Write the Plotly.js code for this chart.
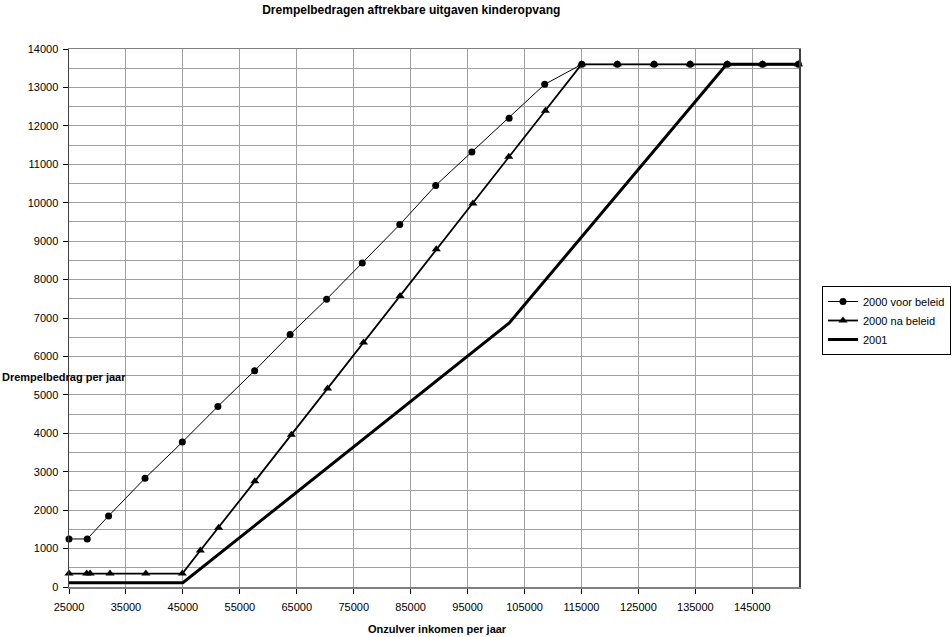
<!DOCTYPE html>
<html>
<head>
<meta charset="utf-8">
<script src="https://cdn.plot.ly/plotly-3.0.1.min.js"></script>
<style>html,body{margin:0;padding:0;background:#fff}#chart{width:952px;height:637px}</style>
</head>
<body>
<div id="chart"></div>
<script>
// 2000 voor beleid
const voorX = [25000, 28200, 31950, 38350, 44900, 51150, 57600, 63830, 70240, 76500, 83090, 89400, 95750, 102290, 108540, 115050, 121300, 127750, 134100, 140600, 146800, 153100];
const voorY = [1250, 1250, 1850, 2830, 3770, 4700, 5630, 6570, 7490, 8430, 9430, 10450, 11320, 12200, 13080, 13600, 13600, 13600, 13600, 13600, 13600, 13600];
// 2000 na beleid
const naX = [25000, 28100, 28700, 32200, 38500, 44900, 48060, 51270, 57630, 64050, 70410, 76720, 83140, 89500, 95930, 102230, 108660, 115000, 121300, 127750, 134100, 140600, 146800, 153100];
const naY = [350, 350, 350, 350, 350, 350, 950, 1545, 2750, 3965, 5165, 6365, 7575, 8790, 9980, 11195, 12395, 13600, 13600, 13600, 13600, 13600, 13600, 13600];
// 2001
const y2001X = [25000, 45000, 102320, 140500, 153100];
const y2001Y = [110, 110, 6870, 13600, 13600];

const seriesNames = ['2000 voor beleid', '2000 na beleid', '2001'];
const xTicks = [25000, 35000, 45000, 55000, 65000, 75000, 85000, 95000, 105000, 115000, 125000, 135000, 145000];
const yTicks = [0, 1000, 2000, 3000, 4000, 5000, 6000, 7000, 8000, 9000, 10000, 11000, 12000, 13000, 14000];

const font = 'Liberation Sans, Arial, sans-serif';

const traces = [
  {x: voorX, y: voorY, name: seriesNames[0], type: 'scatter', mode: 'lines+markers',
   line: {color: '#000', width: 1}, marker: {symbol: 'circle', size: 7, color: '#000'}, cliponaxis: false},
  {x: naX, y: naY, name: seriesNames[1], type: 'scatter', mode: 'lines+markers',
   line: {color: '#000', width: 1.8}, marker: {symbol: 'triangle-up', size: 8, color: '#000'}, cliponaxis: false},
  {x: y2001X, y: y2001Y, name: seriesNames[2], type: 'scatter', mode: 'lines',
   line: {color: '#000', width: 3}, cliponaxis: false}
];

const layout = {
  width: 952, height: 637,
  margin: {l: 69, r: 153, t: 49, b: 50, autoexpand: false},
  paper_bgcolor: '#fff', plot_bgcolor: '#fff',
  font: {family: font, size: 11, color: '#000'},
  title: {text: '<b>Drempelbedragen aftrekbare uitgaven kinderopvang</b>', font: {family: font, size: 12, color: '#000'},
          x: 0.432, xref: 'container', xanchor: 'center', y: 0.985, yref: 'container', yanchor: 'middle'},
  xaxis: {range: [25000, 153200], tickvals: xTicks, ticktext: xTicks.map(String),
          showgrid: true, gridcolor: '#a0a0a0', gridwidth: 1,
          showline: true, linecolor: '#808080', linewidth: 1.5, mirror: true,
          ticks: 'outside', ticklen: 5, tickcolor: '#000', ticklabelstandoff: 4,
          zeroline: false, tickfont: {family: font, size: 11, color: '#000'}},
  yaxis: {range: [0, 14000], tickvals: yTicks, ticktext: yTicks.map(String),
          showgrid: true, gridcolor: '#a0a0a0', gridwidth: 1,
          minor: {dtick: 500, tick0: 0, showgrid: true, gridcolor: '#a0a0a0', gridwidth: 1, ticks: ''},
          showline: true, linecolor: '#404040', linewidth: 1.5, mirror: true,
          ticks: 'outside', ticklen: 5, tickcolor: '#000', ticklabelstandoff: 2,
          zeroline: false, tickfont: {family: font, size: 11, color: '#000'}},
  legend: {x: (822-69)/730, xanchor: 'left', y: (587-286)/538, yanchor: 'top', bordercolor: '#000', borderwidth: 1,
           bgcolor: '#fff', font: {family: font, size: 11, color: '#000'}, itemwidth: 30, tracegroupgap: 0},
  showlegend: true,
  annotations: [
    {text: '<b>Drempelbedrag per jaar</b>', xref: 'paper', yref: 'paper', x: -69/730, y: (587-377)/538,
     xanchor: 'left', yanchor: 'middle', showarrow: false, font: {family: font, size: 11, color: '#000'}},
    {text: '<b>Onzulver inkomen per jaar</b>', xref: 'paper', yref: 'paper', x: (437-69)/730, y: (587-629)/538,
     xanchor: 'center', yanchor: 'middle', showarrow: false, font: {family: font, size: 11, color: '#000'}}
  ]
};

Plotly.newPlot('chart', traces, layout, {displayModeBar: false, staticPlot: true});
</script>
</body>
</html>
